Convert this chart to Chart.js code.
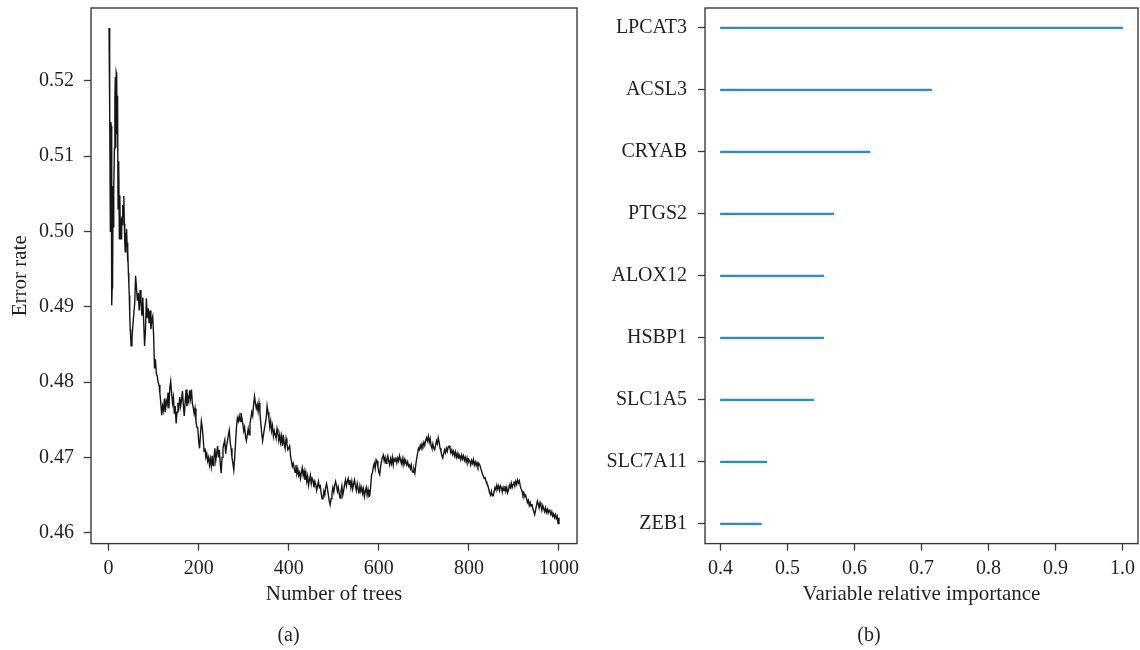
<!DOCTYPE html>
<html>
<head>
<meta charset="utf-8">
<script src="https://cdn.jsdelivr.net/npm/chart.js@4.4.1/dist/chart.umd.min.js"></script>
<style>
  body { margin: 0; background: #fff; }
  #wrap { position: relative; width: 1140px; height: 650px; }
  canvas { position: absolute; top: 0; }
  #error-plot { left: 0; }
  #importance-plot { left: 600px; }
</style>
</head>
<body>
<div id="wrap">
  <canvas id="error-plot" width="590" height="650"></canvas>
  <canvas id="importance-plot" width="540" height="650"></canvas>
</div>
<script>
// OOB error rate, one value per tree for trees 1..50
let error_first_trees = [
  0.5270, 0.5198, 0.5160, 0.5000, 0.5145, 0.5140, 0.4902, 0.4925, 0.4941, 0.5060,
  0.5005, 0.5055, 0.5110, 0.5175, 0.5205, 0.5111, 0.5211, 0.5208, 0.5130, 0.5180,
  0.5030, 0.5065, 0.5093, 0.4990, 0.5048, 0.5000, 0.5017, 0.4990, 0.5005, 0.5020,
  0.5008, 0.5035, 0.5020, 0.5047, 0.5010, 0.4985, 0.4973, 0.4998, 0.4980, 0.5003,
  0.4985, 0.4960, 0.4975, 0.4945, 0.4930, 0.4915, 0.4888, 0.4870, 0.4862, 0.4848
]

// from tree 52 to 1000, a reading every 2 trees (each row = 20 trees)
let later_start = 52
let later_step = 2
let error_later_trees = [
  0.4858, 0.4875, 0.4890, 0.4905, 0.4941, 0.4925, 0.4908, 0.4918, 0.4895, 0.4922,
  0.4905, 0.4888, 0.4912, 0.4880, 0.4848, 0.4870, 0.4911, 0.4885, 0.4898, 0.4878,
  0.4895, 0.4870, 0.4882, 0.4887, 0.4862, 0.4818, 0.4830, 0.4812, 0.4808, 0.4800,
  0.4796, 0.4785, 0.4772, 0.4756, 0.4768, 0.4762, 0.4778, 0.4760, 0.4775, 0.4770,
  0.4786, 0.4765, 0.4792, 0.4801, 0.4785, 0.4772, 0.4780, 0.4758, 0.4768, 0.4745,
  0.4760, 0.4772, 0.4766, 0.4780, 0.4768, 0.4776, 0.4788, 0.4770, 0.4755, 0.4772,
  0.4790, 0.4768, 0.4780, 0.4774, 0.4789, 0.4778, 0.4790, 0.4772, 0.4766, 0.4758,
  0.4765, 0.4748, 0.4740, 0.4739, 0.4722, 0.4712, 0.4730, 0.4748, 0.4740, 0.4726,
  0.4708, 0.4712, 0.4700, 0.4705, 0.4695, 0.4700, 0.4690, 0.4698, 0.4688, 0.4702,
  0.4689, 0.4700, 0.4712, 0.4696, 0.4705, 0.4715, 0.4700, 0.4710, 0.4692, 0.4679,
  0.4700, 0.4712, 0.4718, 0.4723, 0.4705, 0.4715, 0.4722, 0.4730, 0.4736, 0.4720,
  0.4712, 0.4700, 0.4692, 0.4683, 0.4700, 0.4720, 0.4740, 0.4752, 0.4748, 0.4755,
  0.4748, 0.4759, 0.4752, 0.4745, 0.4735, 0.4740, 0.4728, 0.4722, 0.4730, 0.4738,
  0.4730, 0.4745, 0.4752, 0.4760, 0.4755, 0.4770, 0.4781, 0.4772, 0.4765, 0.4770,
  0.4761, 0.4772, 0.4760, 0.4745, 0.4732, 0.4722, 0.4730, 0.4738, 0.4745, 0.4752,
  0.4768, 0.4760, 0.4752, 0.4740, 0.4748, 0.4735, 0.4742, 0.4728, 0.4735, 0.4730,
  0.4725, 0.4738, 0.4732, 0.4722, 0.4730, 0.4720, 0.4728, 0.4715, 0.4730, 0.4718,
  0.4712, 0.4725, 0.4718, 0.4710, 0.4712, 0.4715, 0.4702, 0.4695, 0.4688, 0.4692,
  0.4686, 0.4680, 0.4690, 0.4678, 0.4685, 0.4676, 0.4680, 0.4672, 0.4680, 0.4686,
  0.4676, 0.4682, 0.4670, 0.4679, 0.4668, 0.4675, 0.4663, 0.4670, 0.4676, 0.4665,
  0.4672, 0.4669, 0.4660, 0.4668, 0.4664, 0.4656, 0.4662, 0.4668, 0.4660, 0.4662,
  0.4652, 0.4645, 0.4646, 0.4655, 0.4650, 0.4660, 0.4665, 0.4658, 0.4650, 0.4642,
  0.4637, 0.4645, 0.4652, 0.4660, 0.4654, 0.4662, 0.4668, 0.4663, 0.4655, 0.4660,
  0.4652, 0.4646, 0.4655, 0.4662, 0.4650, 0.4656, 0.4664, 0.4670, 0.4662, 0.4668,
  0.4672, 0.4664, 0.4670, 0.4660, 0.4668, 0.4658, 0.4665, 0.4670, 0.4662, 0.4656,
  0.4665, 0.4658, 0.4652, 0.4662, 0.4655, 0.4660, 0.4652, 0.4658, 0.4648, 0.4655,
  0.4660, 0.4650, 0.4657, 0.4648, 0.4649, 0.4662, 0.4677, 0.4680, 0.4688, 0.4692,
  0.4685, 0.4697, 0.4695, 0.4688, 0.4680, 0.4677, 0.4688, 0.4695, 0.4700, 0.4703,
  0.4695, 0.4700, 0.4692, 0.4698, 0.4702, 0.4695, 0.4690, 0.4698, 0.4692, 0.4700,
  0.4690, 0.4698, 0.4695, 0.4700, 0.4693, 0.4699, 0.4695, 0.4702, 0.4697, 0.4692,
  0.4698, 0.4690, 0.4698, 0.4692, 0.4695, 0.4690, 0.4694, 0.4688, 0.4690, 0.4685,
  0.4690, 0.4682, 0.4680, 0.4684, 0.4679, 0.4690, 0.4698, 0.4705, 0.4712, 0.4710,
  0.4716, 0.4712, 0.4718, 0.4715, 0.4720, 0.4716, 0.4722, 0.4726, 0.4722, 0.4728,
  0.4720, 0.4725, 0.4716, 0.4712, 0.4718, 0.4712, 0.4710, 0.4716, 0.4722, 0.4718,
  0.4726, 0.4720, 0.4712, 0.4708, 0.4702, 0.4699, 0.4705, 0.4710, 0.4706, 0.4712,
  0.4708, 0.4714, 0.4715, 0.4712, 0.4706, 0.4710, 0.4704, 0.4708, 0.4702, 0.4707,
  0.4700, 0.4705, 0.4699, 0.4704, 0.4702, 0.4697, 0.4703, 0.4698, 0.4702, 0.4696,
  0.4700, 0.4694, 0.4699, 0.4693, 0.4697, 0.4695, 0.4690, 0.4696, 0.4692, 0.4697,
  0.4690, 0.4694, 0.4689, 0.4693, 0.4688, 0.4692, 0.4690, 0.4686, 0.4682, 0.4678,
  0.4675, 0.4672, 0.4673, 0.4668, 0.4665, 0.4663, 0.4658, 0.4653, 0.4650, 0.4655,
  0.4649, 0.4649, 0.4655, 0.4660, 0.4657, 0.4663, 0.4658, 0.4662, 0.4656, 0.4662,
  0.4660, 0.4654, 0.4660, 0.4656, 0.4662, 0.4655, 0.4660, 0.4653, 0.4657, 0.4663,
  0.4660, 0.4666, 0.4660, 0.4664, 0.4668, 0.4662, 0.4668, 0.4664, 0.4670, 0.4666,
  0.4669, 0.4662, 0.4658, 0.4655, 0.4650, 0.4653, 0.4648, 0.4650, 0.4645, 0.4640,
  0.4643, 0.4636, 0.4640, 0.4635, 0.4638, 0.4632, 0.4628, 0.4624, 0.4630, 0.4636,
  0.4642, 0.4638, 0.4633, 0.4640, 0.4636, 0.4630, 0.4636, 0.4632, 0.4628, 0.4633,
  0.4627, 0.4631, 0.4626, 0.4630, 0.4628, 0.4624, 0.4628, 0.4622, 0.4625, 0.4620,
  0.4624, 0.4619, 0.4622, 0.4612, 0.4620
]

let tree_ticks = [0, 200, 400, 600, 800, 1000]
let error_ticks = [0.46, 0.47, 0.48, 0.49, 0.50, 0.51, 0.52]

// variable importance, top to bottom
let genes = ['LPCAT3', 'ACSL3', 'CRYAB', 'PTGS2', 'ALOX12', 'HSBP1', 'SLC1A5', 'SLC7A11', 'ZEB1']
let importance = [1.0, 0.715, 0.623, 0.569, 0.554, 0.554, 0.539, 0.469, 0.461]
let importance_base = 0.4
let importance_ticks = [0.4, 0.5, 0.6, 0.7, 0.8, 0.9, 1.0]

let text_color = '#231f20'
let axis_color = '#3a3a3a'
let font_family = "'Liberation Serif', 'DejaVu Serif', serif"

// box around the plotting region, like R's box()
const frame_plugin = {
    id: 'frame',
    afterDraw(chart) {
        const {ctx, chartArea: a} = chart
        ctx.save()
        ctx.strokeStyle = axis_color
        ctx.lineWidth = 1.4
        ctx.strokeRect(a.left, a.top, a.right - a.left, a.bottom - a.top)
        ctx.restore()
    }
}

function no_label_padding(s) {
    s.paddingLeft = 0
    s.paddingRight = 0
    s.paddingTop = 0
    s.paddingBottom = 0
}

function tick_grid() {
    return {
        display: true,
        offset: false,
        drawOnChartArea: false,
        drawTicks: true,
        tickLength: 7,
        tickColor: axis_color,
        tickWidth: 1.3,
    }
}

function define_chart_defaults() {
    Chart.defaults.font.family = font_family
    Chart.defaults.font.size = 20
    Chart.defaults.color = text_color
    Chart.defaults.animation = false
    Chart.defaults.responsive = false
    Chart.defaults.plugins.legend.display = false
    Chart.defaults.plugins.tooltip.enabled = false
}

function build_error_points() {
    let pts = error_first_trees.map((v, i) => ({x: i + 1, y: v}))
    error_later_trees.forEach((v, i) => pts.push({x: later_start + i * later_step, y: v}))
    return pts
}

let axis_title_font = {size: 21}

function create_error_chart() {
    let ctx = document.getElementById('error-plot')
    return new Chart(ctx, {
        type: 'line',
        data: {
            datasets: [{
                data: build_error_points(),
                borderColor: '#161616',
                borderWidth: 1.4,
                pointRadius: 0,
                tension: 0,
            }]
        },
        options: {
            layout: {padding: {top: 8, right: 13, left: 0, bottom: 0}},
            plugins: {
                title: {
                    display: true, text: '(a)', position: 'bottom',
                    color: text_color, font: {size: 20, weight: 'normal'},
                    padding: {top: 0, bottom: 2},
                },
            },
            scales: {
                x: {
                    type: 'linear', min: -39, max: 1040,
                    afterBuildTicks: s => { s.ticks = tree_ticks.map(v => ({value: v})) },
                    afterFit: s => { s.height = 80.4; no_label_padding(s) },
                    grid: tick_grid(),
                    border: {display: false},
                    ticks: {padding: 6, maxRotation: 0, callback: v => String(v)},
                    title: {display: true, text: 'Number of trees', font: axis_title_font, padding: {top: 0, bottom: 17}},
                },
                y: {
                    type: 'linear', min: 0.45855, max: 0.52965,
                    afterBuildTicks: s => { s.ticks = error_ticks.map(v => ({value: v})) },
                    afterFit: s => { s.width = 91; no_label_padding(s) },
                    grid: tick_grid(),
                    border: {display: false},
                    ticks: {padding: 10, callback: v => v.toFixed(2)},
                    title: {display: true, text: 'Error rate', font: axis_title_font, padding: {top: 8, bottom: 0}},
                },
            },
        },
        plugins: [frame_plugin],
    })
}

function create_importance_chart() {
    let ctx = document.getElementById('importance-plot')
    return new Chart(ctx, {
        type: 'bar',
        data: {
            datasets: [{
                data: genes.map((g, i) => ({x: [importance_base, importance[i]], y: i + 1})),
                backgroundColor: 'rgb(44,140,200)',
                borderWidth: 0,
                barThickness: 1.6,
            }]
        },
        options: {
            indexAxis: 'y',
            layout: {padding: {top: 8, right: 2, left: 0, bottom: 0}},
            plugins: {
                title: {
                    display: true, text: '(b)', position: 'bottom',
                    color: text_color, font: {size: 20, weight: 'normal'},
                    padding: {top: 0, bottom: 2},
                },
            },
            scales: {
                x: {
                    type: 'linear', min: 0.377, max: 1.023,
                    afterBuildTicks: s => { s.ticks = importance_ticks.map(v => ({value: v})) },
                    afterFit: s => { s.height = 80.4; no_label_padding(s) },
                    grid: tick_grid(),
                    border: {display: false},
                    ticks: {padding: 6, maxRotation: 0, callback: v => v.toFixed(1)},
                    title: {display: true, text: 'Variable relative importance', font: axis_title_font, padding: {top: 0, bottom: 17}},
                },
                y: {
                    type: 'linear', min: 0.68, max: 9.32, reverse: true, offset: false,
                    afterBuildTicks: s => { s.ticks = genes.map((g, i) => ({value: i + 1})) },
                    afterFit: s => { s.width = 105; no_label_padding(s) },
                    grid: tick_grid(),
                    border: {display: false},
                    ticks: {padding: 11, callback: (v, i) => genes[i]},
                },
            },
        },
        plugins: [frame_plugin],
    })
}

document.addEventListener('DOMContentLoaded', () => {
    define_chart_defaults()
    create_error_chart()
    create_importance_chart()
})
</script>
</body>
</html>
